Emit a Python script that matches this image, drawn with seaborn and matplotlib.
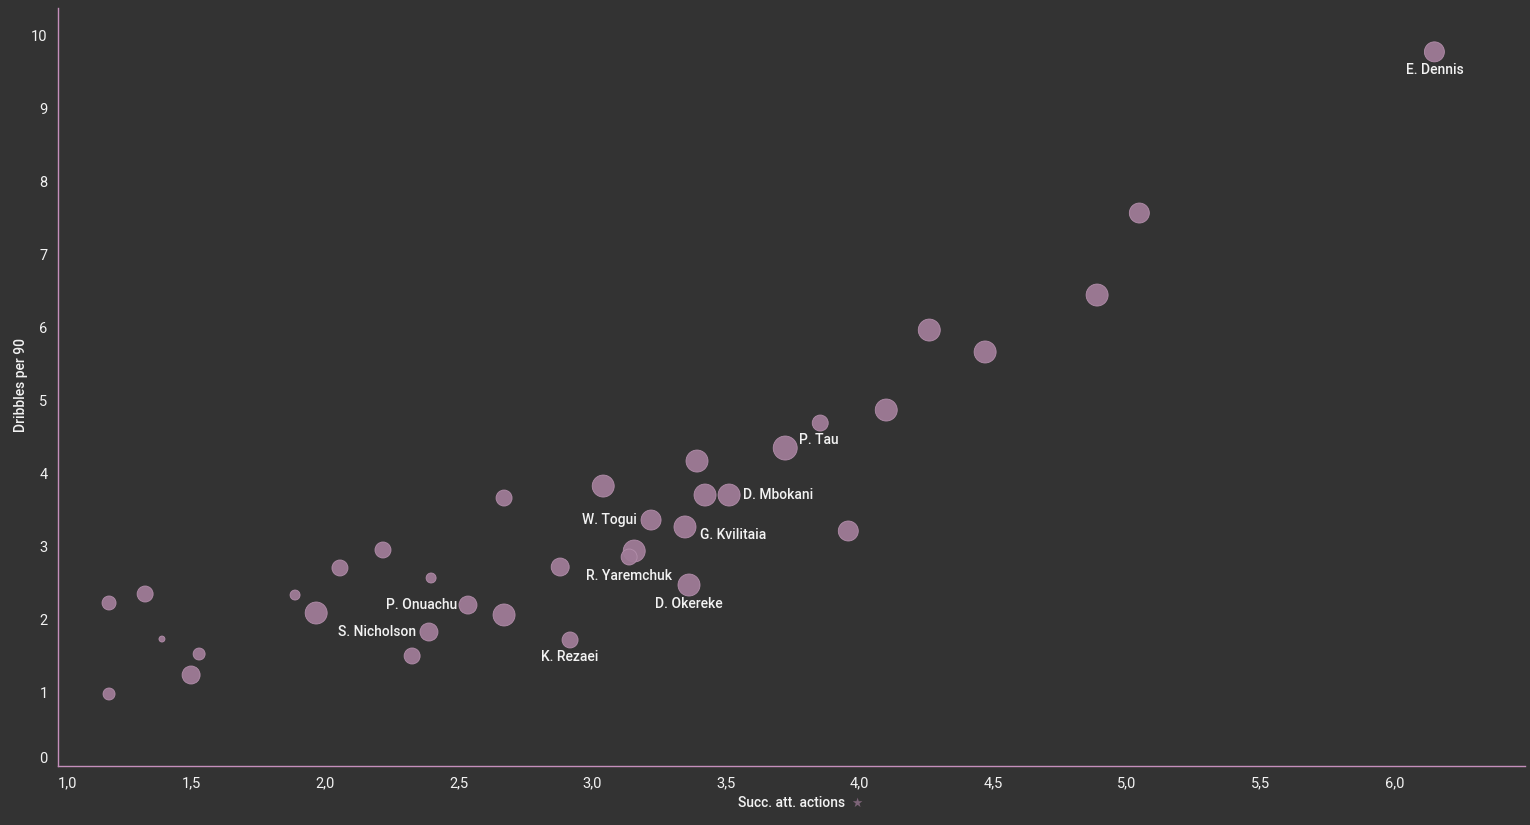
import matplotlib
matplotlib.use("Agg")
import matplotlib.pyplot as plt
import seaborn as sns
import pandas as pd
import numpy as np

# ---- data ----
succ_att_actions = [6.150, 5.046, 4.888, 4.260, 4.469, 4.099, 3.852, 3.721, 3.391, 3.421,
                    3.511, 3.040, 3.957, 3.219, 3.346, 3.156, 3.137, 3.361, 2.669, 2.879,
                    2.916, 2.669, 2.534, 2.388, 2.325, 2.396, 2.216, 2.055, 1.966, 1.887,
                    1.326, 1.191, 1.389, 1.528, 1.498, 1.191]
dribbles_per90 = [9.77, 7.565, 6.443, 5.964, 5.664, 4.870, 4.692, 4.350, 4.172, 3.707,
                  3.707, 3.830, 3.215, 3.365, 3.270, 2.941, 2.859, 2.476, 3.666, 2.722,
                  1.724, 2.066, 2.202, 1.833, 1.505, 2.572, 2.955, 2.709, 2.093, 2.339,
                  2.353, 2.230, 1.737, 1.532, 1.245, 0.985]
bubble = [100, 100, 121, 121, 121, 121, 64, 144, 121, 121,
          121, 121, 100, 100, 121, 121, 64, 121, 64, 81,
          64, 121, 81, 81, 64, 25, 64, 64, 121, 25,
          64, 49, 9, 36, 81, 36]
players = ["E. Dennis", "", "", "", "", "", "P. Tau", "", "", "",
           "D. Mbokani", "", "", "W. Togui", "G. Kvilitaia", "", "R. Yaremchuk", "D. Okereke", "", "",
           "K. Rezaei", "", "P. Onuachu", "S. Nicholson", "", "", "", "", "", "",
           "", "", "", "", "", ""]
x_ticks = [1.0, 1.5, 2.0, 2.5, 3.0, 3.5, 4.0, 4.5, 5.0, 5.5, 6.0]
y_ticks = list(range(0, 11))

df = pd.DataFrame({"x": succ_att_actions, "y": dribbles_per90, "b": bubble, "name": players})

BG = "#333333"
PINK = "#c58fbc"
MARK = "#9f7b97"
TXT = "#f2f2f2"

sns.set_style("dark")
plt.rcParams["font.family"] = ["Roboto", "DejaVu Sans"]

fig = plt.figure(figsize=(15.3, 8.25), dpi=100, facecolor=BG)
ax = fig.add_axes([58/1530, 1 - 766/825, (1525-58)/1530, (766-8)/825])
ax.set_facecolor(BG)

def area(r):
    return (1.44 * r) ** 2

sns.scatterplot(data=df, x="x", y="y", size="b", sizes=(area(3), area(12)),
                size_norm=(9, 144), color=MARK, edgecolor="#b590ad", linewidth=0.6,
                alpha=0.95, legend=False, ax=ax, zorder=3)

ax.set_xlim(1.0, 6.489)
ax.set_ylim(0, 10.37)
ax.set_xticks(x_ticks)
ax.set_yticks(y_ticks)
ax.set_xticklabels([f"{t:.1f}".replace(".", ",") for t in x_ticks])
ax.set_yticklabels([str(t) for t in y_ticks])
ax.grid(False)
for s in ["top", "right"]:
    ax.spines[s].set_visible(False)
for s in ["left", "bottom"]:
    ax.spines[s].set_visible(True)
    ax.spines[s].set_color(PINK)
    ax.spines[s].set_linewidth(1.0)
ax.tick_params(axis="both", colors=PINK, length=4, width=1, direction="out",
               labelcolor=TXT, labelsize=10.5)
xl = ax.get_xticklabels()
xl[0].set_horizontalalignment("left")
yl = ax.get_yticklabels()
yl[0].set_verticalalignment("bottom")

ax.set_xlabel("Succ. att. actions", color=TXT, fontsize=10, fontweight="medium")
ax.set_ylabel("Dribbles per 90", color=TXT, fontsize=10, fontweight="medium")
ax.xaxis.set_label_coords(0.5, -(803 - 766) / 758, transform=ax.transAxes)
ax.xaxis.label.set_va("center")
ax.yaxis.set_label_coords(-(58 - 21) / 1467, (766 - 385) / 758, transform=ax.transAxes)
ax.yaxis.label.set_va("center")
fig.text(857/1530, 1 - 803/825, "\u2605", color="#7d6478", fontsize=9, ha="center", va="center",
         family=["DejaVu Sans"])

# label offsets in points (dx, dy, ha)
offsets = {
    "E. Dennis": (0, -13, "center"),
    "P. Tau": (-1, -12, "center"),
    "D. Mbokani": (10, 0, "left"),
    "W. Togui": (-10, 0, "right"),
    "G. Kvilitaia": (11, -6, "left"),
    "R. Yaremchuk": (0, -14, "center"),
    "D. Okereke": (0, -14, "center"),
    "K. Rezaei": (0, -12, "center"),
    "S. Nicholson": (-9, 0, "right"),
    "P. Onuachu": (-8, 0, "right"),
}
for _, row in df.iterrows():
    if row["name"]:
        dx, dy, ha = offsets[row["name"]]
        ax.annotate(row["name"], (row["x"], row["y"]), xytext=(dx, dy), textcoords="offset points",
                    ha=ha, va="center", color=TXT, fontsize=10, fontweight="medium", zorder=4)

fig.savefig("out.png", dpi=100, facecolor=BG)
